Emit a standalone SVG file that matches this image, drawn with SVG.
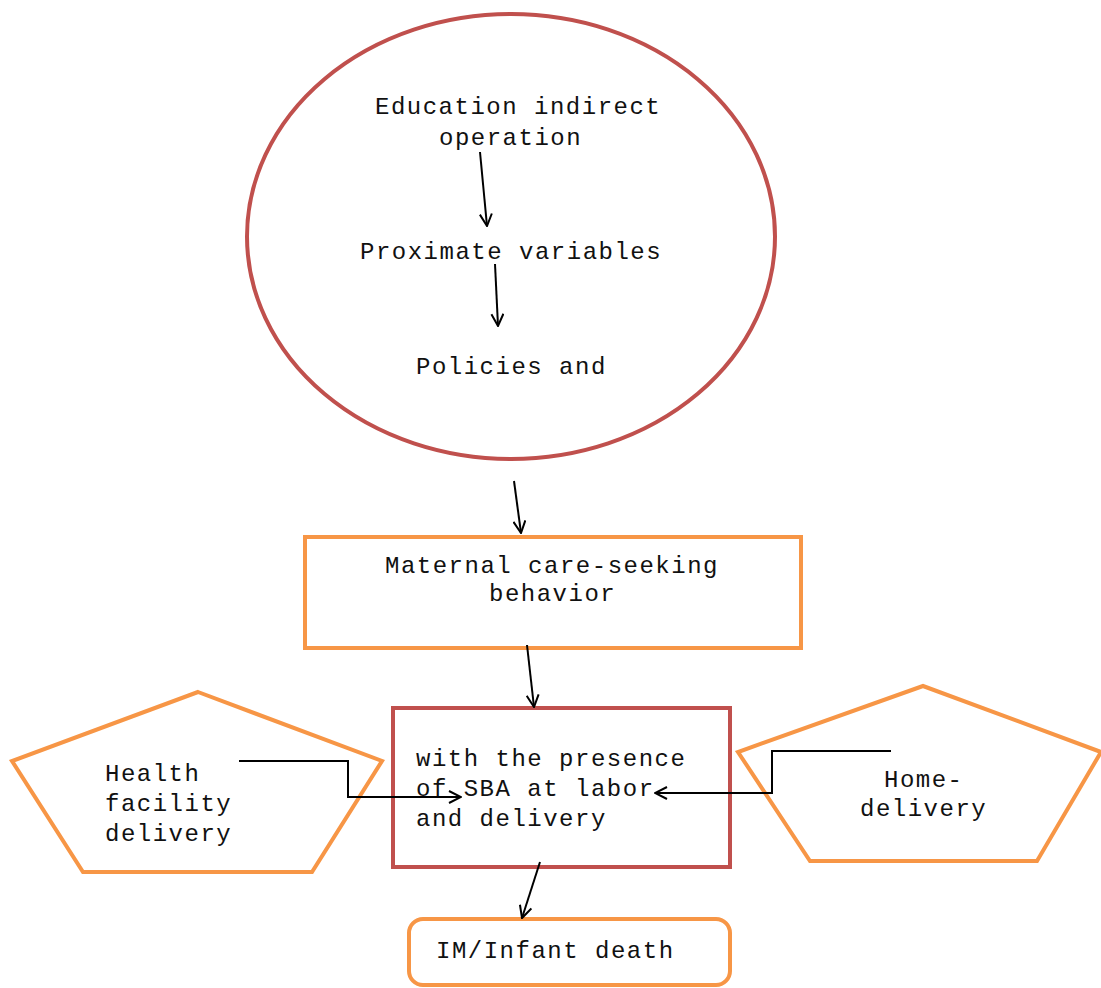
<svg xmlns="http://www.w3.org/2000/svg" width="1101" height="988" viewBox="0 0 1101 988">
<style>
.t{font-family:"Liberation Mono","Courier New",monospace;font-size:24px;letter-spacing:1.5px;fill:#111}
.red{fill:none;stroke:#C0504D;stroke-width:4}
.org{fill:none;stroke:#F79646;stroke-width:4}
.c{fill:none;stroke:#000;stroke-width:2}
</style>
<defs>
<marker id="ah" viewBox="0 0 14 14" refX="13" refY="7" markerWidth="14" markerHeight="14" markerUnits="userSpaceOnUse" orient="auto">
<path d="M1,1 L13,7 L1,13" fill="none" stroke="#000" stroke-width="2"/>
</marker>
</defs>
<rect width="1101" height="988" fill="#fff"/>
<g id="n-ellipse">
<ellipse class="red" cx="511" cy="236.5" rx="264" ry="222.5"/>
<text class="t" x="375" y="114">Education indirect</text>
<text class="t" x="439" y="145">operation</text>
<text class="t" x="360" y="259">Proximate variables</text>
<text class="t" x="416" y="374">Policies and</text>
</g>
<g id="n-maternal">
<rect class="org" x="305" y="537" width="496" height="111"/>
<text class="t" x="385" y="573">Maternal care-seeking</text>
<text class="t" x="489" y="601">behavior</text>
</g>
<g id="n-sba">
<rect class="red" x="393" y="708" width="337" height="159"/>
<text class="t" x="416" y="766">with the presence</text>
<text class="t" x="416" y="796">of SBA at labor</text>
<text class="t" x="416" y="826">and delivery</text>
</g>
<g id="n-health">
<polygon class="org" points="198,692 382,761 312,872 83,872 12,761"/>
<text class="t" x="105" y="781">Health</text>
<text class="t" x="105" y="811">facility</text>
<text class="t" x="105" y="841">delivery</text>
</g>
<g id="n-home">
<polygon class="org" points="923,686 1101,752 1037,861 810,861 738,752"/>
<text class="t" x="884" y="787">Home-</text>
<text class="t" x="860" y="816">delivery</text>
</g>
<g id="n-im">
<rect class="org" x="409" y="919" width="321" height="66" rx="14"/>
<text class="t" x="436" y="958">IM/Infant death</text>
</g>
<g id="connectors">
<line class="c" x1="480" y1="152" x2="487" y2="226" marker-end="url(#ah)"/>
<line class="c" x1="495" y1="264" x2="498" y2="326" marker-end="url(#ah)"/>
<line class="c" x1="514" y1="481" x2="521" y2="533" marker-end="url(#ah)"/>
<line class="c" x1="527" y1="645" x2="534" y2="707" marker-end="url(#ah)"/>
<line class="c" x1="540" y1="862" x2="522" y2="918" marker-end="url(#ah)"/>
<polyline class="c" points="239,761 348,761 348,797 461,797" marker-end="url(#ah)"/>
<polyline class="c" points="891,751 772,751 772,793 655,793" marker-end="url(#ah)"/>
</g>
</svg>
